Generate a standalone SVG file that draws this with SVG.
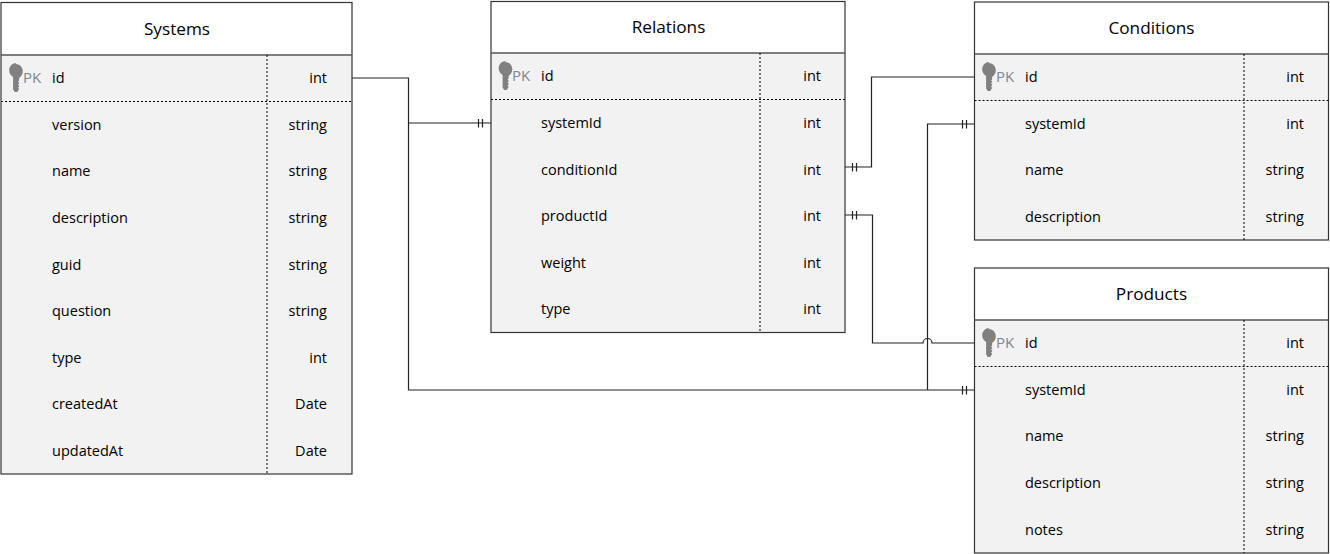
<svg xmlns="http://www.w3.org/2000/svg" width="1330" height="554" viewBox="0 0 1330 554">
<style>
text{font-family:"Open Sans","Noto Sans","Liberation Sans",sans-serif;font-size:14.5px;fill:#000}
.title{font-size:17.2px;text-anchor:middle}
.pk{fill:#7b8794;font-size:15px}
.type{text-anchor:end}
.box{fill:#f2f2f2;stroke:none}
.head{fill:#fff;stroke:none}
.out{fill:none;stroke:#333;stroke-width:1.2}
.hl{stroke:#555;stroke-width:1.4;fill:none}
.dash{stroke:#000;stroke-width:1;stroke-dasharray:2 2;fill:none}
.c{fill:none;stroke:#222;stroke-width:1.2}
.t{fill:none;stroke:#222;stroke-width:1.2}
</style>
<defs>
<path id="key" fill="#808080" d="M0 0c4.200 0 7.300 3.200 7.300 7.300 0 3.200-1.700 5.500-3.700 6.700v2.500l-1 1 1.300 1.500-1.300 1.500 1.300 1.500-1.300 1.500 1 1.500-1.800 3h-2.600l-1.600-2.500v-12.500c-2.300-1.200-3.900-3.500-3.900-6.700 0-4.100 3.100-7.300 7.300-7.300z"/>
</defs>

<g id="connectors">
<path class="c" d="M352 78H408.500V390H975"/>
<path class="c" d="M408.500 123H491"/>
<path class="t" d="M478.500 119v8.500M482.500 119v8.500"/>
<path class="c" d="M927.500 390V124H975"/>
<path class="t" d="M962.500 120v8.500M966.500 120v8.500"/>
<path class="t" d="M962.500 386v8.500M966.500 386v8.500"/>
<path class="c" d="M845 167H871.500V77H975"/>
<path class="t" d="M852.500 163v8.500M856.500 163v8.500"/>
<path class="c" d="M845 215H872.500V343H923a4.500 4.500 0 0 1 9 0H975"/>
<path class="t" d="M852.500 211v8.500M856.500 211v8.500"/>
</g>

<g id="systems">
<rect class="head" x="1" y="2.500" width="351" height="52.500"/>
<rect class="box" x="1" y="55" width="351" height="419"/>
<rect class="out" x="1" y="2.500" width="351" height="471.500"/>
<path class="hl" d="M1 55H352"/>
<path class="dash" d="M1 101.500H352M267 55V474"/>
<text class="title" x="177" y="34.500">Systems</text>
<use href="#key" x="15.500" y="64"/>
<text class="pk" x="23" y="83">PK</text>
<text x="52" y="83">id</text><text class="type" x="327" y="83">int</text>
<text x="52" y="130">version</text><text class="type" x="327" y="130">string</text>
<text x="52" y="176">name</text><text class="type" x="327" y="176">string</text>
<text x="52" y="223">description</text><text class="type" x="327" y="223">string</text>
<text x="52" y="270">guid</text><text class="type" x="327" y="270">string</text>
<text x="52" y="316">question</text><text class="type" x="327" y="316">string</text>
<text x="52" y="363">type</text><text class="type" x="327" y="363">int</text>
<text x="52" y="409">createdAt</text><text class="type" x="327" y="409">Date</text>
<text x="52" y="456">updatedAt</text><text class="type" x="327" y="456">Date</text>
</g>

<g id="relations">
<rect class="head" x="491" y="1.500" width="354" height="52"/>
<rect class="box" x="491" y="53" width="354" height="279"/>
<rect class="out" x="491" y="1.500" width="354" height="331"/>
<path class="hl" d="M491 53H845"/>
<path class="dash" d="M491 99.500H845M760 53V332"/>
<text class="title" x="668.500" y="33">Relations</text>
<use href="#key" x="505" y="62"/>
<text class="pk" x="512" y="81">PK</text>
<text x="541" y="81">id</text><text class="type" x="821" y="81">int</text>
<text x="541" y="128">systemId</text><text class="type" x="821" y="128">int</text>
<text x="541" y="175">conditionId</text><text class="type" x="821" y="175">int</text>
<text x="541" y="221">productId</text><text class="type" x="821" y="221">int</text>
<text x="541" y="268">weight</text><text class="type" x="821" y="268">int</text>
<text x="541" y="314">type</text><text class="type" x="821" y="314">int</text>
</g>

<g id="conditions">
<rect class="head" x="974.500" y="2" width="354" height="52"/>
<rect class="box" x="974.500" y="54" width="354" height="186"/>
<rect class="out" x="974.500" y="2" width="354" height="238"/>
<path class="hl" d="M974.500 54H1328.500"/>
<path class="dash" d="M974.500 100.500H1328.500M1244 54V240"/>
<text class="title" x="1151.500" y="33.500">Conditions</text>
<use href="#key" x="988.500" y="63"/>
<text class="pk" x="996" y="82">PK</text>
<text x="1025" y="82">id</text><text class="type" x="1304" y="82">int</text>
<text x="1025" y="129">systemId</text><text class="type" x="1304" y="129">int</text>
<text x="1025" y="175">name</text><text class="type" x="1304" y="175">string</text>
<text x="1025" y="222">description</text><text class="type" x="1304" y="222">string</text>
</g>

<g id="products">
<rect class="head" x="974.500" y="268" width="354" height="52"/>
<rect class="box" x="974.500" y="320" width="354" height="233"/>
<rect class="out" x="974.500" y="268" width="354" height="285"/>
<path class="hl" d="M974.500 320H1328.500"/>
<path class="dash" d="M974.500 366.500H1328.500M1244 320V553"/>
<text class="title" x="1151.500" y="299.500">Products</text>
<use href="#key" x="988.500" y="329"/>
<text class="pk" x="996" y="348">PK</text>
<text x="1025" y="348">id</text><text class="type" x="1304" y="348">int</text>
<text x="1025" y="395">systemId</text><text class="type" x="1304" y="395">int</text>
<text x="1025" y="441">name</text><text class="type" x="1304" y="441">string</text>
<text x="1025" y="488">description</text><text class="type" x="1304" y="488">string</text>
<text x="1025" y="535">notes</text><text class="type" x="1304" y="535">string</text>
</g>
</svg>
